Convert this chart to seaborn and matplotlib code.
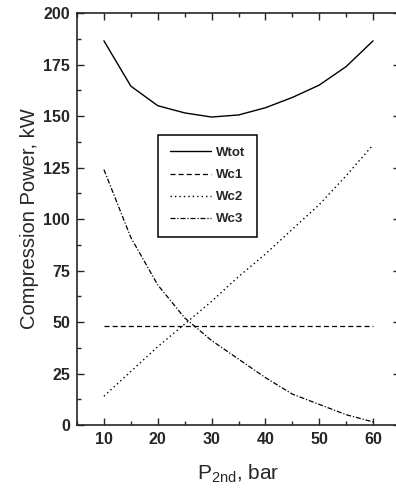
import numpy as np
import pandas as pd
import matplotlib
matplotlib.use('Agg')
import matplotlib.pyplot as plt
import seaborn as sns
from matplotlib.ticker import MultipleLocator

# data
p2nd = [10, 15, 20, 25, 30, 35, 40, 45, 50, 55, 60]
wtot = [186.5, 164.5, 155, 151.5, 149.5, 150.5, 154, 159, 165, 174, 186.5]
wc1 = [48, 48, 48, 48, 48, 48, 48, 48, 48, 48, 48]
wc2 = [14, 26, 38, 49, 60, 72, 83, 95, 107, 121, 136]
wc3 = [124, 91, 68, 52, 41, 32, 23, 15, 10, 5, 1.5]

sns.set_style('ticks')
plt.rcParams['font.family'] = ['Liberation Sans', 'DejaVu Sans']

fig = plt.figure(figsize=(3.96, 4.98), dpi=100)
ax = fig.add_axes([77/396, 73/498, 323/396, 412/498])

series = [('Wtot', wtot, '-', 1.0),
          ('Wc1', wc1, (0, (4, 2.5)), 0.9),
          ('Wc2', wc2, (0, (1, 2.2)), 1.0),
          ('Wc3', wc3, (0, (4, 1.5, 1, 1.5)), 0.9)]
for name, vals, ls, lw in series:
    df = pd.DataFrame({'P': p2nd, 'W': vals})
    sns.lineplot(data=df, x='P', y='W', ax=ax, color='black', linestyle=ls,
                 linewidth=lw, label=name)

ax.set_xlim(5, 65)
ax.set_ylim(0, 200)
ax.xaxis.set_major_locator(MultipleLocator(10))
ax.xaxis.set_minor_locator(MultipleLocator(5))
ax.yaxis.set_major_locator(MultipleLocator(25))
ax.yaxis.set_minor_locator(MultipleLocator(12.5))
ax.tick_params(which='both', direction='in', top=True, right=True, width=1, labelsize=11.5)
ax.tick_params(which='major', length=5, pad=5)
ax.tick_params(which='minor', length=3)
for lab in ax.get_xticklabels() + ax.get_yticklabels():
    lab.set_fontweight('bold')
for s in ax.spines.values():
    s.set_linewidth(1.2)

ax.set_xlabel(r'P$_{\mathregular{2nd}}$, bar', fontsize=15, labelpad=11)
ax.set_ylabel('Compression Power, kW', fontsize=14.5, labelpad=3)

leg = ax.legend(loc='upper left', bbox_to_anchor=(0.251, 0.704), fontsize=9.5,
                frameon=True, fancybox=False, framealpha=1, edgecolor='black',
                handlelength=3.1, handletextpad=0.4, labelspacing=0.75,
                borderpad=0.9, borderaxespad=0)
leg.get_frame().set_linewidth(1.1)
for t in leg.get_texts():
    t.set_fontweight('bold')

fig.savefig('out.png', dpi=100)
